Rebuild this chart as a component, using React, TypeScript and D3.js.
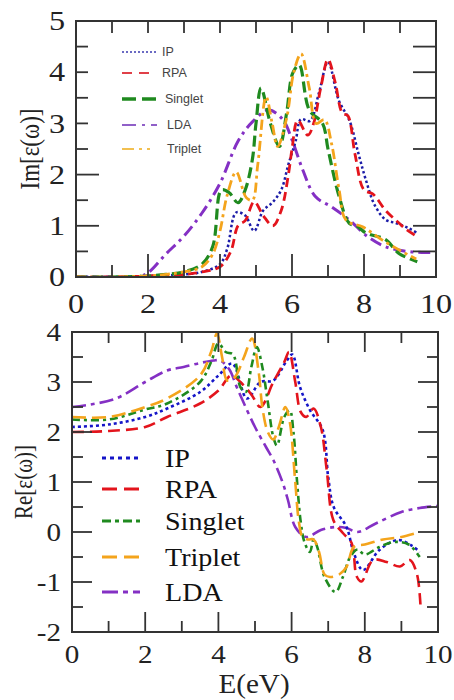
import React from 'react';
import * as d3 from 'd3';

// Im[eps] panel
const imIpE = [0, 1, 2, 3, 3.5, 4, 4.2, 4.45, 4.7, 4.95, 5.2, 5.45, 5.7, 5.9, 6.1, 6.25, 6.5, 6.75, 7.0, 7.3, 7.6, 7.85, 8.05, 8.3, 8.6, 8.9, 9.25, 9.5];
const imIpV = [0, 0, 0.02, 0.05, 0.1, 0.25, 0.55, 1.26, 1.2, 0.9, 1.3, 1.45, 1.7, 2.2, 2.65, 3.08, 3.05, 3.6, 4.2, 3.45, 3.05, 2.4, 1.9, 1.4, 1.12, 1.05, 0.95, 0.85];
const imRpaE = [0, 1, 2, 3, 3.5, 4, 4.3, 4.5, 4.7, 4.95, 5.2, 5.47, 5.7, 5.9, 6.0, 6.16, 6.44, 6.6, 6.8, 7.0, 7.2, 7.4, 7.55, 7.75, 8.0, 8.25, 8.6, 8.9, 9.17, 9.5];
const imRpaV = [0, 0, 0.02, 0.05, 0.1, 0.2, 0.5, 1.0, 1.1, 1.47, 1.2, 1.0, 1.3, 2.0, 2.5, 3.06, 2.77, 3.0, 3.7, 4.25, 3.8, 3.2, 3.15, 2.4, 1.7, 1.62, 1.3, 1.1, 0.93, 0.78];
const imSingE = [0, 1, 2, 2.5, 3, 3.5, 3.8, 4.04, 4.25, 4.5, 4.7, 4.9, 5.0, 5.14, 5.4, 5.65, 5.85, 6.02, 6.2, 6.48, 6.85, 7.0, 7.31, 7.59, 7.8, 8.05, 8.6, 8.97, 9.48];
const imSingV = [0, 0, 0.02, 0.05, 0.1, 0.25, 0.6, 1.7, 1.65, 1.45, 1.7, 2.3, 3.0, 3.69, 3.0, 2.55, 3.2, 3.98, 4.14, 3.26, 3.0, 2.5, 1.57, 1.05, 1.0, 0.86, 0.73, 0.46, 0.3];
const imTripE = [0, 1, 2, 2.5, 3, 3.5, 3.8, 4.0, 4.2, 4.45, 4.73, 4.9, 5.05, 5.28, 5.45, 5.6, 5.85, 6.05, 6.25, 6.48, 6.67, 6.9, 7.1, 7.31, 7.5, 7.96, 8.51, 9.0, 9.45];
const imTripV = [0, 0, 0.02, 0.05, 0.1, 0.2, 0.45, 0.9, 1.6, 2.05, 1.55, 1.5, 2.2, 3.52, 3.0, 2.55, 3.1, 4.0, 4.36, 3.69, 3.0, 3.07, 2.6, 1.7, 1.11, 0.98, 0.72, 0.52, 0.35];
const imLdaE = [0, 1, 1.8, 2.0, 2.5, 3.0, 3.5, 4.0, 4.5, 4.9, 5.35, 5.75, 6.0, 6.3, 6.65, 7.1, 7.6, 8.1, 8.6, 9.2, 9.6, 10];
const imLdaV = [0, 0, 0.02, 0.08, 0.45, 0.8, 1.25, 1.83, 2.65, 3.03, 3.26, 3.07, 2.68, 2.09, 1.57, 1.37, 1.11, 0.79, 0.59, 0.5, 0.48, 0.48];

// Re[eps] panel
const reIpE = [0, 1, 2, 2.6, 3.5, 4.0, 4.38, 4.78, 5.15, 5.5, 5.87, 6.02, 6.23, 6.5, 6.85, 7.0, 7.15, 7.5, 7.7, 7.95, 8.4, 8.9, 9.3, 9.5];
const reIpV = [2.1, 2.15, 2.3, 2.47, 2.8, 3.13, 3.37, 2.67, 3.0, 3.03, 3.43, 3.55, 2.9, 2.44, 2.04, 1.1, 0.5, 0.1, -0.42, -0.76, -0.36, -0.16, -0.28, -0.4];
const reRpaE = [0, 1, 2, 2.6, 3.5, 4.0, 4.35, 4.6, 4.9, 5.15, 5.5, 5.8, 5.93, 6.1, 6.25, 6.4, 6.6, 6.8, 6.96, 7.14, 7.4, 7.64, 7.78, 7.91, 8.23, 8.6, 8.96, 9.23, 9.42, 9.52];
const reRpaV = [2.0, 2.02, 2.1, 2.3, 2.57, 2.83, 3.13, 3.0, 2.75, 2.5, 3.0, 3.4, 3.6, 3.0, 2.4, 2.3, 2.47, 2.1, 1.24, 0.24, -0.02, -0.22, -0.89, -0.99, -0.56, -0.6, -0.69, -0.56, -0.83, -1.45];
const reSingE = [0, 1, 2, 2.6, 3.5, 3.8, 4.0, 4.2, 4.4, 4.6, 4.75, 4.9, 5.05, 5.2, 5.35, 5.5, 5.6, 5.8, 5.95, 6.05, 6.15, 6.25, 6.35, 6.5, 6.6, 6.7, 6.9, 7.2, 7.4, 7.6, 7.8, 8.0, 8.4, 8.8, 9.2, 9.5];
const reSingV = [2.25, 2.25, 2.45, 2.57, 3.0, 3.4, 3.77, 3.6, 3.55, 2.9, 2.8, 3.3, 3.7, 3.3, 2.6, 1.9, 1.73, 2.3, 2.43, 2.0, 1.0, 0.2, -0.2, -0.4, -0.15, -0.3, -0.9, -1.2, -0.9, -0.5, -0.35, -0.45, -0.3, -0.2, -0.25, -0.5];
const reTripE = [0, 1, 2, 2.6, 3.5, 3.8, 3.96, 4.1, 4.24, 4.45, 4.7, 4.92, 5.1, 5.2, 5.35, 5.5, 5.65, 5.83, 5.95, 6.1, 6.2, 6.3, 6.45, 6.6, 6.75, 6.9, 7.05, 7.3, 7.5, 7.7, 8.0, 8.5, 9.0, 9.5];
const reTripV = [2.3, 2.3, 2.5, 2.67, 3.13, 3.6, 3.97, 3.5, 3.03, 3.1, 3.5, 3.87, 3.2, 2.5, 2.0, 1.85, 2.1, 2.5, 2.2, 1.0, 0.2, -0.1, -0.15, -0.15, -0.4, -0.85, -0.9, -0.85, -0.7, -0.3, -0.25, -0.15, -0.1, 0.0];
const reLdaE = [0, 0.5, 1.2, 2.0, 2.6, 3.05, 3.5, 3.87, 4.05, 4.3, 4.5, 4.7, 5.0, 5.3, 5.5, 5.75, 5.9, 6.1, 6.4, 6.8, 7.2, 7.5, 7.8, 8.3, 9.0, 9.5, 10];
const reLdaV = [2.5, 2.55, 2.67, 3.0, 3.23, 3.3, 3.38, 3.43, 3.43, 3.25, 2.9, 2.57, 2.1, 1.7, 1.44, 1.0, 0.64, 0.1, -0.1, 0.04, 0.1, 0.08, 0.0, 0.17, 0.4, 0.48, 0.52];

const xTicks = [0, 2, 4, 6, 8, 10];
const imTicks = [0, 1, 2, 3, 4, 5];
const reTicks = [-2, -1, 0, 1, 2, 3, 4];

const BLUE = '#1515c8';
const RED = '#e3141c';
const GREEN = '#1f8a1f';
const ORANGE = '#f4a41c';
const PURPLE = '#8430c4';
const FRAME = '#333';

type Series = { name: string; e: number[]; v: number[]; color: string; dash: string; w: number };

const imSeries: Series[] = [
  { name: 'LDA', e: imLdaE, v: imLdaV, color: PURPLE, dash: '12,5,3,5', w: 3 },
  { name: 'IP', e: imIpE, v: imIpV, color: '#1c1ca8', dash: '2.5,2.5', w: 2.5 },
  { name: 'RPA', e: imRpaE, v: imRpaV, color: RED, dash: '9,5', w: 2.8 },
  { name: 'Singlet', e: imSingE, v: imSingV, color: GREEN, dash: '11,5', w: 3.2 },
  { name: 'Triplet', e: imTripE, v: imTripV, color: ORANGE, dash: '10,4,3,4', w: 2.8 },
];
const reSeries: Series[] = [
  { name: 'LDA', e: reLdaE, v: reLdaV, color: PURPLE, dash: '14,5,4,5', w: 2.6 },
  { name: 'IP', e: reIpE, v: reIpV, color: BLUE, dash: '3,3', w: 2.6 },
  { name: 'RPA', e: reRpaE, v: reRpaV, color: RED, dash: '12,6', w: 2.6 },
  { name: 'Singlet', e: reSingE, v: reSingV, color: GREEN, dash: '8,4,3,4', w: 2.6 },
  { name: 'Triplet', e: reTripE, v: reTripV, color: ORANGE, dash: '14,6', w: 2.6 },
];

const imLegend = [
  { name: 'IP', color: '#3a3ab0', dash: '2,2', w: 1.6, len: 35, dx: 0, y: 52 },
  { name: 'RPA', color: '#e04048', dash: '10,7', w: 1.8, len: 28, dx: 0, y: 73 },
  { name: 'Singlet', color: GREEN, dash: '14,6', w: 3.5, len: 35, dx: 3, y: 99 },
  { name: 'LDA', color: '#9060c8', dash: '14,6,3,6', w: 1.8, len: 35, dx: 5, y: 125 },
  { name: 'Triplet', color: '#f2c050', dash: '12,5,3,5', w: 1.8, len: 28, dx: 5, y: 149 },
];
const reLegend = [
  { name: 'IP', color: BLUE, dash: '4,4', w: 3, y: 458 },
  { name: 'RPA', color: RED, dash: '15,7', w: 3, y: 489 },
  { name: 'Singlet', color: GREEN, dash: '9,4,4,4', w: 3, y: 521 },
  { name: 'Triplet', color: ORANGE, dash: '15,7', w: 3, y: 557 },
  { name: 'LDA', color: PURPLE, dash: '16,5,5,5', w: 3, y: 592 },
];

const SERIF = '"Liberation Serif", "Times New Roman", serif';

function Panel(props: {
  id: string; left: number; right: number; top: number; bottom: number;
  yDomain: [number, number]; yTicks: number[]; series: Series[];
  major: number; minor: number; leftMajorLong: number[]; fs: number; sx: number;
  yLab: string; yLabX: number; yLabFs: number; xLabBase: number; yLabRight: number;
}) {
  const p = props;
  const x = d3.scaleLinear().domain([0, 10]).range([p.left, p.right]);
  const y = d3.scaleLinear().domain(p.yDomain).range([p.bottom, p.top]);
  const line = d3.line<[number, number]>().x(d => x(d[0])).y(d => y(d[1])).curve(d3.curveCatmullRom.alpha(0.5));
  const xMinor = d3.range(1, 10, 2);
  const yMinor = p.yTicks.slice(0, -1).map(t => t + 0.5);
  const ticks: JSX.Element[] = [];
  const tk = (k: string, x1: number, y1: number, x2: number, y2: number) =>
    ticks.push(<line key={k} x1={x1} y1={y1} x2={x2} y2={y2} stroke={FRAME} strokeWidth={1.8} />);
  xTicks.forEach(t => {
    tk('xb' + t, x(t), p.bottom, x(t), p.bottom - p.major);
    tk('xt' + t, x(t), p.top, x(t), p.top + (p.id === 'im' ? p.minor : p.major));
  });
  xMinor.forEach(t => {
    tk('mb' + t, x(t), p.bottom, x(t), p.bottom - p.minor);
    tk('mt' + t, x(t), p.top, x(t), p.top + p.minor);
  });
  p.yTicks.forEach(t => {
    const lm = p.id === 'im' ? (p.leftMajorLong.includes(t) ? p.major : p.minor) : p.major;
    tk('yl' + t, p.left, y(t), p.left + lm, y(t));
    tk('yr' + t, p.right, y(t), p.right - p.major, y(t));
  });
  yMinor.forEach(t => {
    tk('nl' + t, p.left, y(t), p.left + p.minor, y(t));
    tk('nr' + t, p.right, y(t), p.right - (p.id === 'im' ? p.major : p.minor), y(t));
  });
  const midY = (p.top + p.bottom) / 2;
  return (
    <g>
      <defs>
        <clipPath id={'clip-' + p.id}>
          <rect x={p.left} y={p.top} width={p.right - p.left} height={p.bottom - p.top} />
        </clipPath>
      </defs>
      <g clipPath={`url(#clip-${p.id})`}>
        {p.series.map(s => (
          <path key={s.name} d={line(s.e.map((e, i) => [e, s.v[i]] as [number, number])) || ''}
            fill="none" stroke={s.color} strokeWidth={s.w} strokeDasharray={s.dash} />
        ))}
      </g>
      {ticks}
      <rect x={p.left} y={p.top} width={p.right - p.left} height={p.bottom - p.top} fill="none" stroke={FRAME} strokeWidth={2} />
      {xTicks.map(t => (
        <g key={'xl' + t} transform={`translate(${x(t)},${p.xLabBase}) scale(${p.sx},1)`}>
          <text textAnchor="middle" fontFamily={SERIF} fontSize={p.fs} fill="#222">{t}</text>
        </g>
      ))}
      {p.yTicks.map(t => (
        <g key={'yt' + t} transform={`translate(${p.yLabRight},${y(t)}) scale(${p.sx},1)`}>
          <text textAnchor="end" dominantBaseline="central" fontFamily={SERIF} fontSize={p.fs} fill="#222">{t}</text>
        </g>
      ))}
      <g transform={`translate(${p.yLabX},${midY}) rotate(-90) scale(1,1.2)`}>
        <text textAnchor="middle" dominantBaseline="central" fontFamily={SERIF} fontSize={p.yLabFs} fill="#222">{p.yLab}</text>
      </g>
    </g>
  );
}

export default function App() {
  return (
    <svg width={454} height={700} style={{ position: 'absolute', left: 0, top: 0, background: '#fff' }}>
      <rect width={454} height={700} fill="#fff" />
      <Panel id="im" left={76} right={436} top={21} bottom={277} yDomain={[0, 5]} yTicks={imTicks}
        series={imSeries} major={23} minor={12} leftMajorLong={[1, 2]} fs={28} sx={1.15}
        yLab="Im[ε(ω)]" yLabX={29} yLabFs={23} xLabBase={313} yLabRight={65} />
      {imLegend.map(l => (
        <g key={'il' + l.name}>
          <line x1={122} x2={122 + l.len} y1={l.y} y2={l.y} stroke={l.color} strokeWidth={l.w} strokeDasharray={l.dash} />
          <text x={162 + l.dx} y={l.y} dominantBaseline="central" fontFamily='"Liberation Sans", Arial, sans-serif'
            fontSize={12.5} fill="#444">{l.name}</text>
        </g>
      ))}
      <Panel id="re" left={72} right={438} top={332} bottom={632} yDomain={[-2, 4]} yTicks={reTicks}
        series={reSeries} major={20} minor={11} leftMajorLong={[]} fs={26} sx={1.12}
        yLab="Re[ε(ω)]" yLabX={23} yLabFs={21} xLabBase={663} yLabRight={61} />
      {reLegend.map(l => (
        <g key={'rl' + l.name}>
          <line x1={102} x2={140} y1={l.y} y2={l.y} stroke={l.color} strokeWidth={l.w} strokeDasharray={l.dash} />
          <g transform={`translate(165,${l.y}) scale(1.08,1)`}>
            <text dominantBaseline="central" fontFamily={SERIF} fontSize={26} fill="#111">{l.name}</text>
          </g>
        </g>
      ))}
      <g transform="translate(254,693) scale(1.08,1)">
        <text textAnchor="middle" fontFamily={SERIF} fontSize={27} fill="#222">E(eV)</text>
      </g>
    </svg>
  );
}
